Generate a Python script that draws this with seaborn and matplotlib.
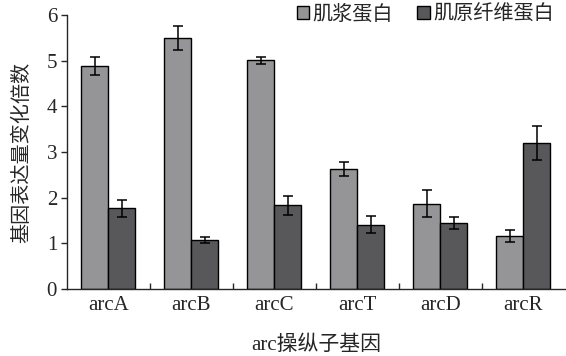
import matplotlib
matplotlib.use("Agg")
import matplotlib.pyplot as plt
import seaborn as sns
import pandas as pd
import numpy as np
from matplotlib.ticker import FixedLocator

genes = ["arcA", "arcB", "arcC", "arcT", "arcD", "arcR"]
sarco = [4.89, 5.50, 5.01, 2.63, 1.87, 1.17]
sarco_err = [0.20, 0.26, 0.08, 0.15, 0.30, 0.13]
myofib = [1.77, 1.07, 1.83, 1.41, 1.45, 3.19]
myofib_err = [0.19, 0.06, 0.20, 0.18, 0.13, 0.37]
series = ["肌浆蛋白", "肌原纤维蛋白"]

sns.set_style("ticks")
plt.rcParams["font.family"] = ["Liberation Serif", "Noto Sans CJK SC"]

df = pd.DataFrame({
    "gene": genes * 2,
    "value": sarco + myofib,
    "series": [series[0]] * len(genes) + [series[1]] * len(genes),
})

fig = plt.figure(figsize=(5.66, 3.56), dpi=100)
ax = fig.add_axes([0.118, 0.188, 0.880, 0.770])

sns.barplot(data=df, x="gene", y="value", hue="series", hue_order=series,
            palette=["#959598", "#58585a"], width=0.65, errorbar=None,
            edgecolor="black", linewidth=1.0, saturation=1, ax=ax)

errs = sarco_err + myofib_err
vals = sarco + myofib
bars = [p for p in ax.patches if p.get_height() > 0][:len(vals)]
for p, v, e in zip(bars, vals, errs):
    cx = p.get_x() + p.get_width() / 2
    ax.errorbar(cx, v, yerr=e, color="black", capsize=3.5, elinewidth=1.1,
                capthick=1.1, zorder=5)

ax.set_ylim(0, 6)
ax.set_xlim(-0.5, 5.5)
ax.set_yticks(range(0, 7))
ax.tick_params(axis="y", direction="out", length=4, width=1, labelsize=15, pad=3)
ax.tick_params(axis="x", which="major", length=0, labelsize=15, pad=5)
ax.xaxis.set_minor_locator(FixedLocator([0.5, 1.5, 2.5, 3.5, 4.5]))
ax.tick_params(axis="x", which="minor", direction="in", length=4, width=1)
sns.despine(ax=ax)
for s in ("left", "bottom"):
    ax.spines[s].set_linewidth(1.0)

ax.set_xlabel("arc操纵子基因", fontsize=15, labelpad=15)
ax.set_ylabel("基因表达量变化倍数", fontsize=14.5, labelpad=10)

leg = ax.legend(loc="upper right", bbox_to_anchor=(0.995, 1.065), ncol=2,
                frameon=False, fontsize=14.5, handlelength=0.6, handleheight=0.6,
                handletextpad=0.2, columnspacing=1.2, borderaxespad=0)

fig.savefig("out.png", dpi=100)
